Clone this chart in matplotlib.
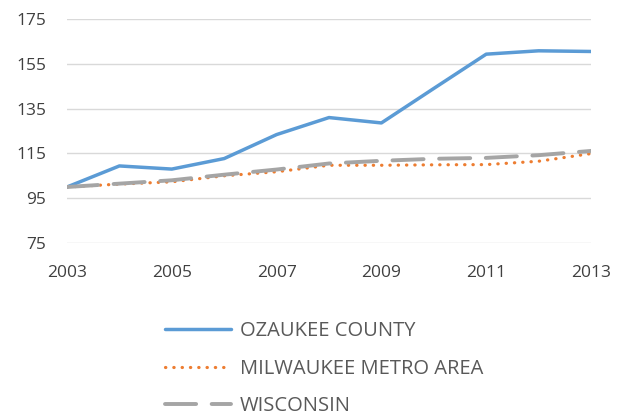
import matplotlib.pyplot as plt

years = list(range(2003, 2014))
ozaukee = [100, 109.4, 108.0, 112.7, 123.4, 131.0, 128.6, 144.0, 159.3, 160.8, 160.5]
milwaukee = [100, 101.3, 102.3, 105.0, 106.8, 109.7, 109.7, 109.9, 110.0, 111.5, 114.9]
wisconsin = [100, 101.5, 103.0, 105.5, 107.8, 110.5, 111.7, 112.6, 113.0, 114.2, 116.1]

plt.rcParams['font.family'] = ['Open Sans', 'DejaVu Sans']

fig = plt.figure(figsize=(6.25, 4.19), dpi=100)
ax = fig.add_axes([67/625, 1 - 243/419, (591-67)/625, (243-19)/419])

ax.plot(years, ozaukee, color='#5B9BD5', lw=2.5, label='OZAUKEE COUNTY', solid_capstyle='round')
ax.plot(years, milwaukee, color='#ED7D31', lw=2.3, linestyle=(0, (0.1, 2.5)),
        dash_capstyle='round', label='MILWAUKEE METRO AREA')
ax.plot(years, wisconsin, color='#A5A5A5', lw=2.8, linestyle=(0, (8, 4)),
        dash_capstyle='round', label='WISCONSIN')

ax.set_xlim(2003, 2013)
ax.set_ylim(75, 175)
ax.set_yticks(range(75, 176, 20))
ax.set_xticks(range(2003, 2014, 2))
ax.grid(axis='y', color='#D9D9D9', lw=1)
ax.set_axisbelow(True)
for s in ax.spines.values():
    s.set_visible(False)
ax.tick_params(length=0, labelsize=12.5, colors='#404040')
ax.tick_params(axis='x', pad=16)
ax.tick_params(axis='y', pad=15)

# legend under the plot
leg = fig.legend(loc='upper left', bbox_to_anchor=(165/625, 1 - 321/419), frameon=False,
                 fontsize=14.5, handlelength=3.3, labelspacing=0.88, handletextpad=0.4,
                 borderpad=0, borderaxespad=0, labelcolor='#595959')

fig.savefig('out.png', dpi=100)
